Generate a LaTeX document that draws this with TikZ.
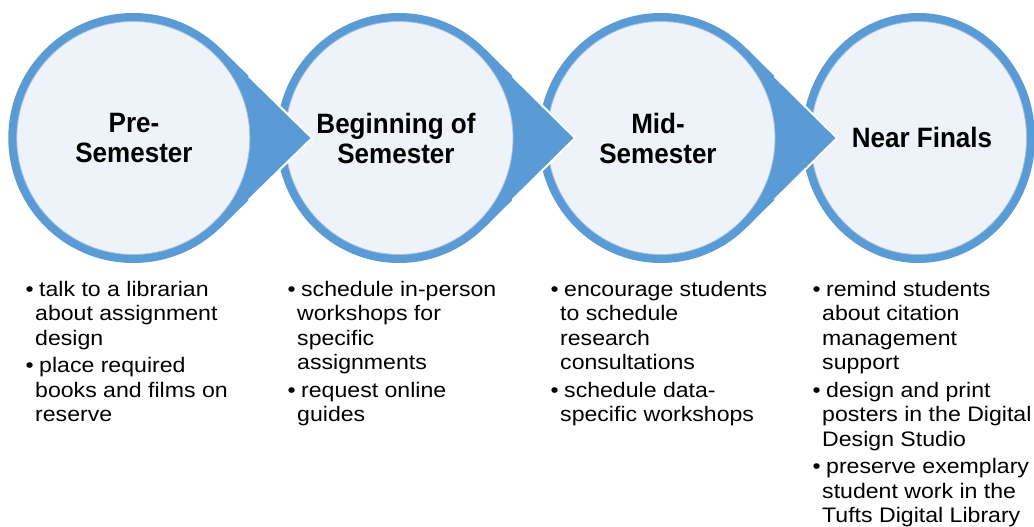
\documentclass[tikz,border=0pt]{standalone}
\usepackage{fontspec}
\setmainfont{Liberation Sans}
\newfontfamily\headfont[FakeStretch=0.93]{Liberation Sans}
\newfontfamily\bodyfont[FakeStretch=1.1]{Liberation Sans}
\usetikzlibrary{calc}

\definecolor{ringblue}{HTML}{5B9BD5}
\definecolor{discfill}{HTML}{EEF3FA}
\definecolor{discedge}{HTML}{A4C2E4}

\tikzset{
  stagehead/.style={align=center, inner sep=0pt, text=black,
    font=\headfont\bfseries\fontsize{28}{30}\selectfont},
  itembox/.style={align=left, anchor=north west, inner sep=0pt, text=black,
    font=\bodyfont\fontsize{21}{24.5}\selectfont},
  ring/.style={fill=ringblue},
  disc/.style={fill=discfill, draw=discedge, line width=0.8pt},
  pointer/.style={fill=ringblue},
  pointeredge/.style={draw=white, line width=2pt},
}

% first line of a bullet item: fixed top, hanging bullet
\newcommand{\itembullet}{\rule{0pt}{17pt}\llap{\textbullet\hspace{1.5pt}}\hspace*{4pt}}

% #1 name, #2 centre x, #3 outer x-radius
\newcommand{\stagering}[3]{%
  \coordinate (#1) at (#2,138);
  \path[ring] (#1) ellipse [x radius=#3, y radius=125];
}
% #1 name, #2 outer x-radius
\newcommand{\stagedisc}[2]{%
  \path[disc] (#1) ellipse [x radius=#2-8.5, y radius=116.5];
}
% #1 name, #2 outer x-radius, #3 distance of the tip from the centre
\newcommand{\stagepointer}[3]{%
  \coordinate (#1tip) at ($(#1)+(#3,0)$);
  \coordinate (#1up) at ($(#1)+(45:#2 and 125)$);
  \coordinate (#1dn) at ($(#1)+(-45:#2 and 125)$);
  \path[pointer] (#1up) -- (#1tip) -- (#1dn) -- cycle;
  \path[pointeredge] ($(#1tip)!0.7!(#1up)$) -- (#1tip) -- ($(#1tip)!0.7!(#1dn)$);
}

\begin{document}
\begin{tikzpicture}[x=1pt,y=-1pt]
\useasboundingbox (0,0) rectangle (1034,527);
\fill[white] (0,0) rectangle (1034,527);

\begin{scope}
\clip (0,0) rectangle (1034,527);
% stages are drawn right to left so that each pointer overlaps the next circle
\stagering{sd}{918.5}{116.5}
\stagedisc{sd}{116.5}
\stagering{sc}{661}{122.5}
\stagepointer{sc}{122.5}{176}
\stagedisc{sc}{122.5}
\stagering{sb}{399}{122.5}
\stagepointer{sb}{122.5}{176}
\stagedisc{sb}{122.5}
\stagering{sa}{133.3}{125}
\stagepointer{sa}{125}{178.7}
\stagedisc{sa}{125}
\end{scope}

% stage titles
\node[stagehead] (ha) at (134,138) {Pre-\\Semester};
\node[stagehead] (hb) at (396,138) {Beginning of\\Semester};
\node[stagehead] (hc) at (658,138) {Mid-\\Semester};
\node[stagehead] (hd) at (922,137) {Near Finals};

% suggestions under each stage
\node[itembox] (a1) at (35,279) {\itembullet talk to a librarian\\about assignment\\design};
\node[itembox] (a2) at (35,355.5) {\itembullet place required\\books and films on\\reserve};

\node[itembox] (b1) at (297,279) {\itembullet schedule in-person\\workshops for\\specific\\assignments};
\node[itembox] (b2) at (297,380) {\itembullet request online\\guides};

\node[itembox] (c1) at (560,279) {\itembullet encourage students\\to schedule\\research\\consultations};
\node[itembox] (c2) at (560,380) {\itembullet schedule data-\\specific workshops};

\node[itembox] (d1) at (822,279) {\itembullet remind students\\about citation\\management\\support};
\node[itembox] (d2) at (822,380) {\itembullet design and print\\posters in the Digital\\Design Studio};
\node[itembox] (d3) at (822,456.5) {\itembullet preserve exemplary\\student work in the\\Tufts Digital Library};
\end{tikzpicture}
\end{document}
